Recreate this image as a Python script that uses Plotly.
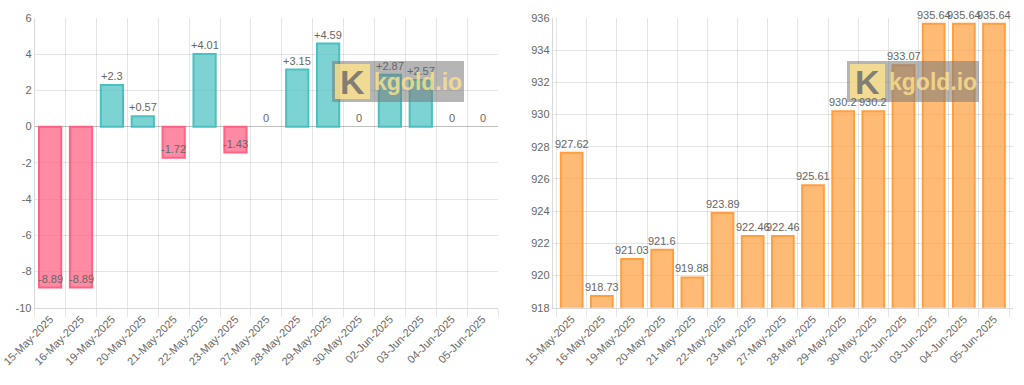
import plotly.graph_objects as go

dates = ["15-May-2025", "16-May-2025", "19-May-2025", "20-May-2025", "21-May-2025",
         "22-May-2025", "23-May-2025", "27-May-2025", "28-May-2025", "29-May-2025",
         "30-May-2025", "02-Jun-2025", "03-Jun-2025", "04-Jun-2025", "05-Jun-2025"]
changes = [-8.89, -8.89, 2.3, 0.57, -1.72, 4.01, -1.43, 0, 3.15, 4.59, 0, 2.87, 2.57, 0, 0]
prices = [927.62, 918.73, 921.03, 921.6, 919.88, 923.89, 922.46, 922.46, 925.61,
          930.2, 930.2, 933.07, 935.64, 935.64, 935.64]
left_ticks = [6, 4, 2, 0, -2, -4, -6, -8, -10]
right_ticks = [936, 934, 932, 930, 928, 926, 924, 922, 920, 918]

W, H = 1024, 385
FONT = "Liberation Sans, Arial, sans-serif"
GRID = "rgba(0,0,0,0.1)"
TICKC = "#666"
FS = 11

def px(x):
    return x / W

def py(y):
    return 1 - y / H

left_dom = [px(34.7), px(498)]
right_dom = [px(552.7), px(1013)]
ydom = [py(307.7), py(18)]

fig = go.Figure()

pos_fill, pos_line = "rgba(75,192,192,0.72)", "rgb(75,192,192)"
neg_fill, neg_line = "rgba(255,99,132,0.75)", "rgb(255,99,132)"
fig.add_trace(go.Bar(
    x=dates, y=changes, xaxis="x", yaxis="y",
    marker=dict(color=[neg_fill if v < 0 else pos_fill for v in changes],
                line=dict(color=[neg_line if v < 0 else pos_line for v in changes],
                          width=[0 if v == 0 else 2 for v in changes])),
    hoverinfo="x+y", showlegend=False))

fig.add_trace(go.Bar(
    x=dates, y=prices, xaxis="x2", yaxis="y2",
    marker=dict(color="rgba(255,159,64,0.72)", line=dict(color="rgb(255,159,64)", width=2)),
    hoverinfo="x+y", showlegend=False))

def fmt_change(v):
    if v > 0:
        return "+" + f"{v:g}"
    return f"{v:g}"

annotations = []
for d, v in zip(dates, changes):
    annotations.append(dict(x=d, y=v, xref="x", yref="y", text=fmt_change(v),
                            showarrow=False, yanchor="bottom", yshift=1,
                            font=dict(family=FONT, size=FS, color="#666")))
for d, v in zip(dates, prices):
    annotations.append(dict(x=d, y=v, xref="x2", yref="y2", text=f"{v:g}",
                            showarrow=False, yanchor="bottom", yshift=1,
                            font=dict(family=FONT, size=FS, color="#666")))

# watermark
shapes = []
for x0 in (332, 847):
    shapes.append(dict(type="rect", xref="paper", yref="paper",
                       x0=px(x0), x1=px(x0 + 132), y0=py(102), y1=py(61),
                       fillcolor="rgba(120,120,120,0.55)", line=dict(width=0), layer="above"))
    shapes.append(dict(type="rect", xref="paper", yref="paper",
                       x0=px(x0 + 3), x1=px(x0 + 38), y0=py(99), y1=py(64),
                       fillcolor="rgba(255,228,140,0.8)", line=dict(width=0), layer="above"))
    annotations.append(dict(x=px(x0 + 20.5), y=py(81.5), xref="paper", yref="paper",
                            text="<b>K</b>", showarrow=False, xanchor="center", yanchor="middle",
                            font=dict(family=FONT, size=34, color="rgba(110,110,110,0.85)")))
    annotations.append(dict(x=px(x0 + 40), y=py(81.5), xref="paper", yref="paper",
                            text="<b>kgold.io</b>", showarrow=False, xanchor="left", yanchor="middle",
                            font=dict(family=FONT, size=23, color="rgba(255,228,140,0.8)")))

xcommon = dict(type="category", tickson="boundaries", showgrid=True, gridcolor=GRID,
               ticks="outside", ticklen=8, tickcolor=GRID, tickangle=-45,
               tickfont=dict(family=FONT, size=FS, color=TICKC),
               showline=True, linecolor="rgba(0,0,0,0.15)", linewidth=1,
               automargin=False, fixedrange=True)
ycommon = dict(showgrid=True, gridcolor=GRID,
               tickfont=dict(family=FONT, size=FS, color=TICKC),
               showline=True, linecolor="rgba(0,0,0,0.15)", linewidth=1,
               ticks="", automargin=False, fixedrange=True)

fig.update_layout(
    width=W, height=H,
    margin=dict(l=0, r=0, t=0, b=0),
    paper_bgcolor="white", plot_bgcolor="white",
    bargap=0.28,
    xaxis=dict(domain=left_dom, anchor="y", **xcommon),
    yaxis=dict(domain=ydom, anchor="x", range=[-10, 6], zeroline=True,
               tickvals=left_ticks, ticktext=[str(t) for t in left_ticks],
               zerolinecolor="rgba(0,0,0,0.25)", zerolinewidth=1, **ycommon),
    xaxis2=dict(domain=right_dom, anchor="y2", **xcommon),
    yaxis2=dict(domain=ydom, anchor="x2", range=[918, 936], zeroline=False,
                tickvals=right_ticks, ticktext=[str(t) for t in right_ticks], **ycommon),
    annotations=annotations,
    shapes=shapes,
    font=dict(family=FONT),
)

fig.write_html("out.html", config={"displayModeBar": False},
               post_script="document.body.style.margin='0';document.body.style.overflow='hidden';")
